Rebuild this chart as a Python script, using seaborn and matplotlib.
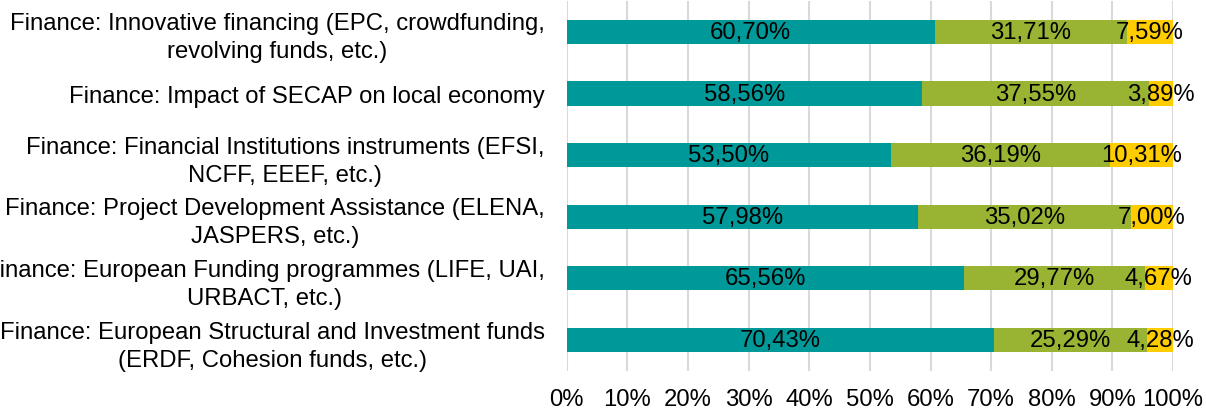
import matplotlib
matplotlib.use('Agg')
import matplotlib.pyplot as plt
import seaborn as sns
import pandas as pd
import numpy as np

categories = [
    'Finance: Innovative financing (EPC, crowdfunding,\nrevolving funds, etc.)',
    'Finance: Impact of SECAP on local economy',
    'Finance: Financial Institutions instruments (EFSI,\nNCFF, EEEF, etc.)',
    'Finance: Project Development Assistance (ELENA,\nJASPERS, etc.)',
    'Finance: European Funding programmes (LIFE, UAI,\nURBACT, etc.)',
    'Finance: European Structural and Investment funds\n(ERDF, Cohesion funds, etc.)',
]
teal_vals = [60.70, 58.56, 53.50, 57.98, 65.56, 70.43]
green_vals = [31.71, 37.55, 36.19, 35.02, 29.77, 25.29]
yellow_vals = [7.59, 3.89, 10.31, 7.00, 4.67, 4.28]

colors = ['#009999', '#99B433', '#FFCC00']

sns.set_style('white')
plt.rcParams['font.family'] = ['Liberation Sans', 'DejaVu Sans']
FS = 17.2

df = pd.DataFrame({'category': categories, 'teal': teal_vals,
                   'green': green_vals, 'yellow': yellow_vals})
df['c1'] = df['teal']
df['c2'] = df['teal'] + df['green']
df['c3'] = df['c2'] + df['yellow']

fig = plt.figure(figsize=(12.06, 4.10), dpi=100)
ax = fig.add_axes([0.470, 0.093, 0.5026, 0.902])

# stacked by drawing cumulative totals from the back
for col, color in zip(['c3', 'c2', 'c1'], colors[::-1]):
    sns.barplot(data=df, x=col, y='category', orient='h', color=color,
                width=0.39, ax=ax, saturation=1, edgecolor='none', zorder=3)

# segment labels
for i, row in df.iterrows():
    lefts = [0, row['c1'], row['c2']]
    vals = [row['teal'], row['green'], row['yellow']]
    for left, v in zip(lefts, vals):
        txt = f'{v:.2f}%'.replace('.', ',')
        ax.text(left + v / 2, i, txt, ha='center', va='center',
                fontsize=FS, color='black', zorder=5)

ax.set_xlim(0, 100)
ax.set_ylim(5.5, -0.5)
ax.set_xticks(np.arange(0, 101, 10))
ax.set_xticklabels([f'{t}%' for t in range(0, 101, 10)], fontsize=FS)
ax.set_yticks(range(len(categories)))
ax.set_yticklabels(categories, fontsize=FS, multialignment='center',
                   linespacing=1.35)
ax.tick_params(axis='x', length=0, pad=12, labelcolor='black')
ax.tick_params(axis='y', length=0, pad=16, labelcolor='black')
ax.set_xlabel('')
ax.set_ylabel('')
ax.grid(axis='x', color='#D9D9D9', linewidth=1.5, zorder=0)
ax.set_axisbelow(True)
for s in ax.spines.values():
    s.set_visible(False)

fig.savefig('out.png', dpi=100)
